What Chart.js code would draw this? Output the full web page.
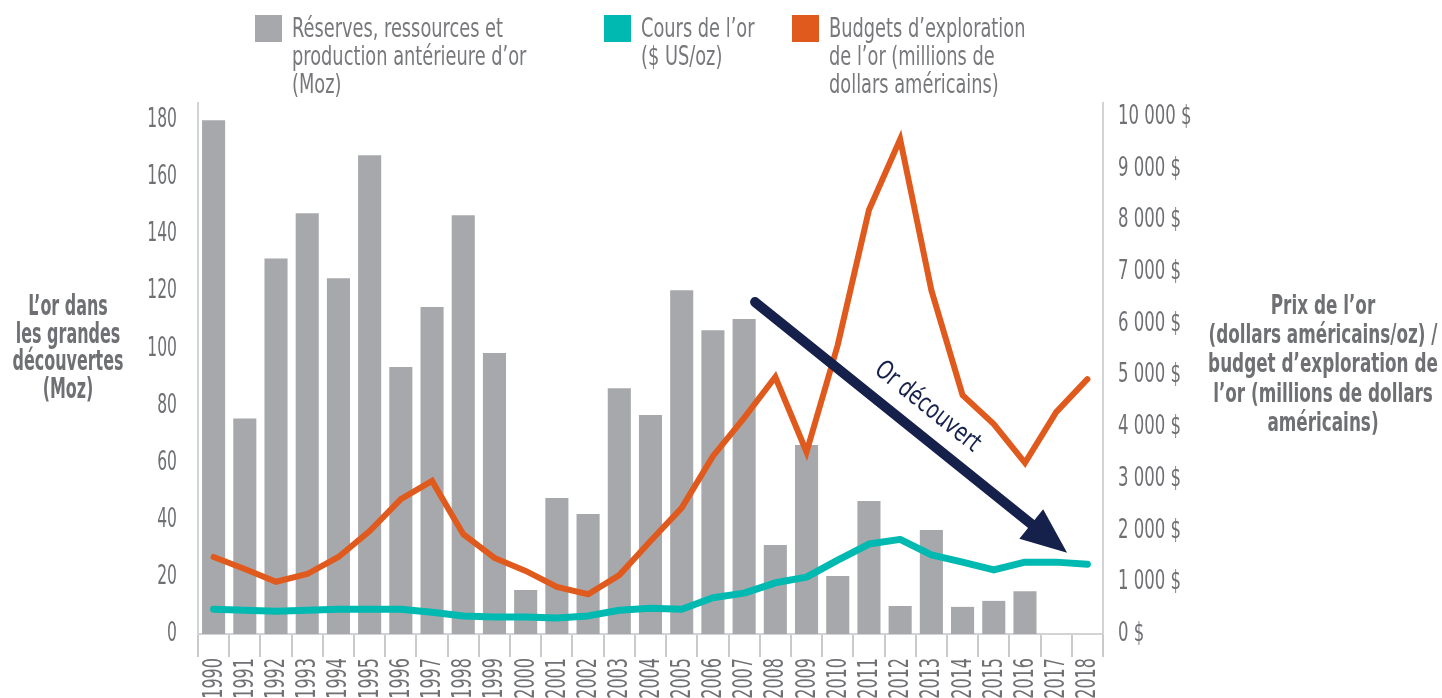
<!DOCTYPE html>
<html>
<head>
<meta charset="utf-8">
<script src="https://cdn.jsdelivr.net/npm/chart.js@4"></script>
<style>
  html, body { margin: 0; padding: 0; background: #fff; }
  #wrap { width: 1442px; height: 698px; position: relative; }
</style>
</head>
<body>
<div id="wrap"><canvas id="goldChart"></canvas></div>
<script>
// data
var years = ["1990", "1991", "1992", "1993", "1994", "1995", "1996", "1997", "1998", "1999",
    "2000", "2001", "2002", "2003", "2004", "2005", "2006", "2007", "2008", "2009",
    "2010", "2011", "2012", "2013", "2014", "2015", "2016", "2017", "2018"];
var discoveries = [180, 75.5, 131.5, 147.4, 124.6, 167.7, 93.5, 114.5, 146.7, 98.4,
    15.4, 47.6, 42, 86.1, 76.7, 120.4, 106.4, 110.3, 31.2, 66.2,
    20.3, 46.6, 9.8, 36.4, 9.5, 11.6, 15, null, null];
var goldPrice = [480, 460, 440, 460, 480, 480, 480, 420, 350, 330,
    330, 310, 350, 460, 500, 480, 700, 790, 990, 1100,
    1430, 1740, 1830, 1530, 1390, 1240, 1390, 1390, 1350];
var explorationBudget = [1490, 1257, 1010, 1160, 1490, 1990, 2610, 2960, 1930, 1470,
    1220, 910, 770, 1140, 1800, 2440, 3440, 4180, 4970, 3520,
    5590, 8200, 9570, 6650, 4620, 4060, 3310, 4290, 4930];
var leftTicks = [0, 20, 40, 60, 80, 100, 120, 140, 160, 180];
var rightTicks = [0, 1000, 2000, 3000, 4000, 5000, 6000, 7000, 8000, 9000, 10000];
// arrow annotation, in (category index, right-axis value)
var arrowFrom = [17.35, 6420];
var arrowTo = [27.35, 1570];

var FONT = "'Liberation Sans Narrow', 'DejaVu Sans Condensed', sans-serif";
var TEXT_GREY = "#6f7073";

function fmtDollars(v) {
    return String(v).replace(/\B(?=(\d{3})+(?!\d))/g, " ") + " $";
}

// the original uses a very condensed face, so text is squeezed horizontally
function squeezeText(ctx, txt, x, y, sq) {
    var w = ctx.measureText(txt).width;
    ctx.fillText(txt, x, y, w * sq);
}

function fitFactor(ctx, txt, target) {
    return target / ctx.measureText(txt).width;
}

var decorations = {
    id: "decorations",
    afterDraw: function (chart) {
        var ctx = chart.ctx;
        var xs = chart.scales.x, yl = chart.scales.y, yr = chart.scales.y1;
        ctx.save();
        ctx.fillStyle = TEXT_GREY;

        // tick labels
        ctx.font = "27px " + FONT;
        var sqTick = 0.64;
        ctx.textBaseline = "middle";
        ctx.textAlign = "right";
        yl.ticks.forEach(function (t) {
            squeezeText(ctx, String(t.value), yl.right - 21, yl.getPixelForValue(t.value), sqTick);
        });
        ctx.textAlign = "left";
        yr.ticks.forEach(function (t) {
            squeezeText(ctx, fmtDollars(t.value), yr.left + 15, yr.getPixelForValue(t.value), sqTick + 0.04);
        });
        xs.ticks.forEach(function (t, i) {
            ctx.save();
            ctx.translate(xs.getPixelForTick(i) + 1, xs.top + 24);
            ctx.rotate(-Math.PI / 2);
            ctx.textAlign = "right";
            squeezeText(ctx, xs.getLabelForValue(t.value), 0, 0, sqTick + 0.02);
            ctx.restore();
        });

        // legend
        var legendItems = [
            { color: "#a7a8ab", x: 255, lines: ["Réserves, ressources et", "production antérieure d’or", "(Moz)"] },
            { color: "#00b9b1", x: 604, lines: ["Cours de l’or", "($ US/oz)"] },
            { color: "#e05a1e", x: 792, lines: ["Budgets d’exploration", "de l’or (millions de", "dollars américains)"] },
        ];
        ctx.font = "27px " + FONT;
        var sqLeg = fitFactor(ctx, "Réserves, ressources et", 211);
        ctx.textBaseline = "middle";
        ctx.textAlign = "left";
        legendItems.forEach(function (it) {
            ctx.fillStyle = it.color;
            ctx.fillRect(it.x, 15, 27, 27);
            ctx.fillStyle = "#77787b";
            it.lines.forEach(function (l, i) {
                squeezeText(ctx, l, it.x + 37, 30 + i * 28, sqLeg);
            });
        });

        // axis titles
        ctx.textAlign = "center";
        ctx.fillStyle = TEXT_GREY;
        ctx.font = "bold 28px " + FONT;
        var sqL = fitFactor(ctx, "découvertes", 111);
        ["L’or dans", "les grandes", "découvertes", "(Moz)"].forEach(function (l, i) {
            squeezeText(ctx, l, 68, 308 + i * 27.5, sqL);
        });
        ctx.font = "bold 26px " + FONT;
        var sqR = fitFactor(ctx, "(dollars américains/oz) /", 229);
        ["Prix de l’or", "(dollars américains/oz) /", "budget d’exploration de",
            "l’or (millions de dollars", "américains)"].forEach(function (l, i) {
            squeezeText(ctx, l, 1323, 307 + i * 29.3, sqR);
        });

        // arrow
        var x0 = xs.getPixelForValue(arrowFrom[0]), y0 = yr.getPixelForValue(arrowFrom[1]);
        var x1 = xs.getPixelForValue(arrowTo[0]), y1 = yr.getPixelForValue(arrowTo[1]);
        var ang = Math.atan2(y1 - y0, x1 - x0);
        var cos = Math.cos(ang), sin = Math.sin(ang);
        var headLen = 46, headHalf = 19;
        ctx.strokeStyle = "#16214b";
        ctx.fillStyle = "#16214b";
        ctx.lineWidth = 10;
        ctx.lineCap = "round";
        ctx.beginPath();
        ctx.moveTo(x0, y0);
        ctx.lineTo(x1 - cos * (headLen - 4), y1 - sin * (headLen - 4));
        ctx.stroke();
        var bx = x1 - cos * headLen, by = y1 - sin * headLen;
        ctx.beginPath();
        ctx.moveTo(x1, y1);
        ctx.lineTo(bx - sin * headHalf, by + cos * headHalf);
        ctx.lineTo(bx + sin * headHalf, by - cos * headHalf);
        ctx.closePath();
        ctx.fill();

        // arrow label
        var len = Math.hypot(x1 - x0, y1 - y0);
        var tx = x0 + cos * len * 0.5 + sin * 26;
        var ty = y0 + sin * len * 0.5 - cos * 26;
        ctx.translate(tx, ty);
        ctx.rotate(ang);
        ctx.font = "26px " + FONT;
        ctx.textAlign = "center";
        ctx.textBaseline = "middle";
        ctx.fillText("Or découvert", 0, 0, 128);
        ctx.restore();
    },
};

var ctx = document.getElementById("goldChart").getContext("2d");
var goldChart = new Chart(ctx, {
    type: "bar",
    data: {
        labels: years,
        datasets: [
            {
                type: "line",
                label: "Cours de l’or ($ US/oz)",
                data: goldPrice,
                yAxisID: "y1",
                borderColor: "#00b9b1",
                borderWidth: 7,
                pointRadius: 0,
                borderCapStyle: "round",
                borderJoinStyle: "round",
                order: 1,
            },
            {
                type: "line",
                label: "Budgets d’exploration de l’or (millions de dollars américains)",
                data: explorationBudget,
                yAxisID: "y1",
                borderColor: "#e05a1e",
                borderWidth: 6,
                pointRadius: 0,
                borderCapStyle: "round",
                order: 2,
            },
            {
                label: "Réserves, ressources et production antérieure d’or (Moz)",
                data: discoveries,
                yAxisID: "y",
                backgroundColor: "#a7a8ab",
                barPercentage: 0.74,
                categoryPercentage: 1,
                order: 3,
            },
        ],
    },
    options: {
        responsive: true,
        maintainAspectRatio: false,
        animation: false,
        layout: { padding: { top: 103, left: 0, right: 0, bottom: 0 } },
        plugins: {
            legend: { display: false },
            tooltip: { enabled: false },
        },
        scales: {
            x: {
                offset: true,
                grid: {
                    offset: true,
                    drawOnChartArea: false,
                    drawTicks: true,
                    tickLength: 23,
                    color: "#c9cacc",
                    lineWidth: 2,
                },
                border: { display: true, color: "#d2d3d5", width: 2 },
                ticks: { display: false, autoSkip: false },
                afterFit: function (s) { s.height = 64; },
            },
            y: {
                position: "left",
                min: 0,
                max: 186,
                grid: { display: false, drawTicks: false },
                border: { display: true, color: "#d2d3d5", width: 2 },
                ticks: { display: false },
                afterBuildTicks: function (s) {
                    s.ticks = leftTicks.map(function (v) { return { value: v }; });
                },
                afterFit: function (s) { s.width = 198; },
            },
            y1: {
                position: "right",
                min: 0,
                max: 10270,
                grid: { display: false, drawTicks: false },
                border: { display: true, color: "#d2d3d5", width: 2 },
                ticks: { display: false },
                afterBuildTicks: function (s) {
                    s.ticks = rightTicks.map(function (v) { return { value: v }; });
                },
                afterFit: function (s) { s.width = 339; },
            },
        },
    },
    plugins: [decorations],
});
</script>
</body>
</html>
